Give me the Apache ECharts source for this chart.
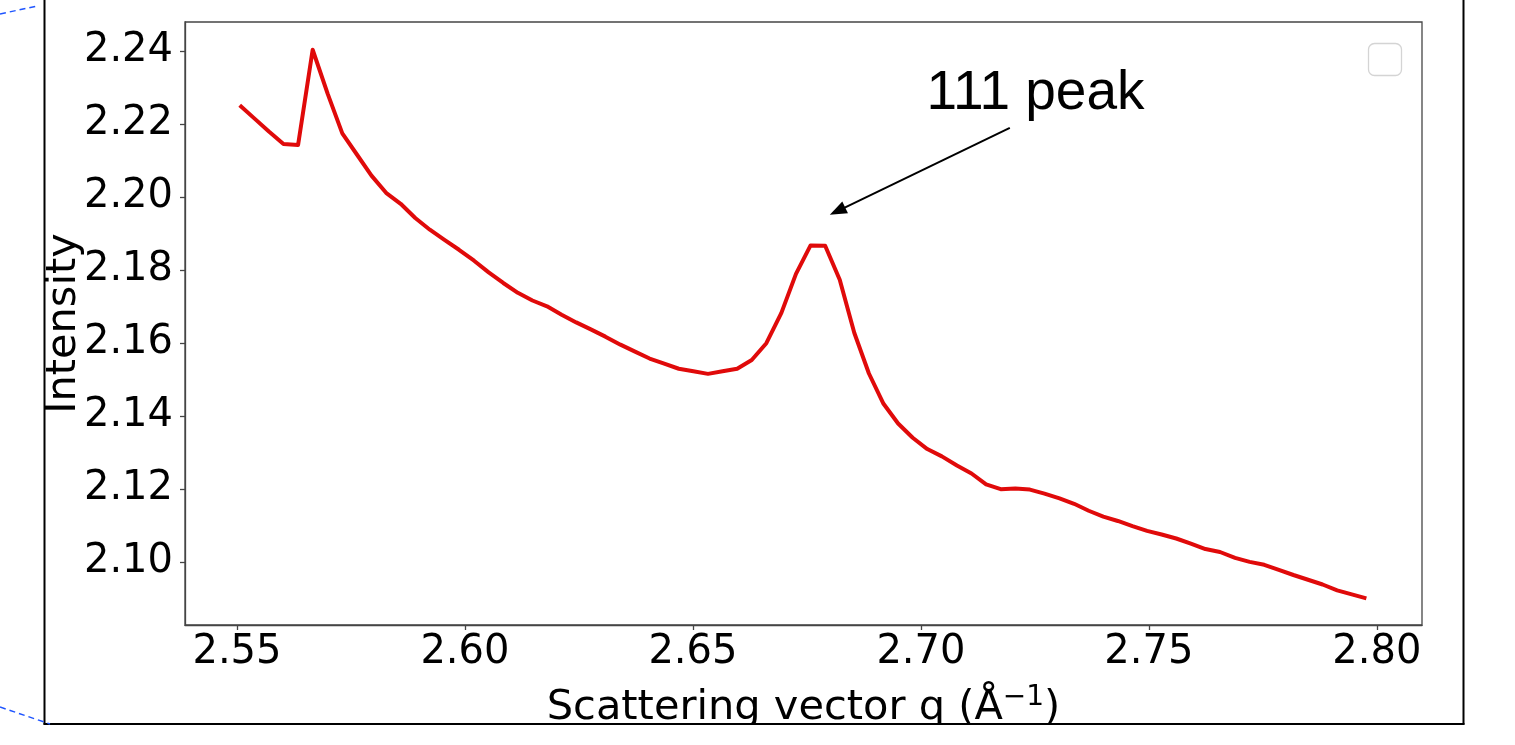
<!DOCTYPE html>
<html>
<head>
<meta charset="utf-8">
<script src="https://cdn.jsdelivr.net/npm/echarts@6/dist/echarts.min.js"></script>
<style>
  html, body { margin: 0; padding: 0; background: #fff; }
  #chart { width: 1515px; height: 745px; }
</style>
</head>
<body>
<div id="chart"></div>
<script>
// Scattering vector q (1/Å)
const qValues = [
  2.5506, 2.5538, 2.5570, 2.5602, 2.5634, 2.5666, 2.5699, 2.5731, 2.5763, 2.5795,
  2.5827, 2.5859, 2.5891, 2.5923, 2.5955, 2.5987, 2.6020, 2.6052, 2.6084, 2.6116,
  2.6148, 2.6180, 2.6212, 2.6244, 2.6276, 2.6308, 2.6341, 2.6373, 2.6405, 2.6437,
  2.6469, 2.6501, 2.6533, 2.6565, 2.6597, 2.6629, 2.6661, 2.6694, 2.6726, 2.6758,
  2.6790, 2.6822, 2.6854, 2.6886, 2.6918, 2.6950, 2.6982, 2.7014, 2.7046, 2.7079,
  2.7111, 2.7143, 2.7175, 2.7207, 2.7239, 2.7271, 2.7304, 2.7336, 2.7368, 2.7400,
  2.7432, 2.7464, 2.7496, 2.7528, 2.7560, 2.7592, 2.7624, 2.7656, 2.7689, 2.7721,
  2.7753, 2.7785, 2.7817, 2.7849, 2.7881, 2.7913, 2.7945, 2.7977
];

// Integrated intensity at each q
const intensity = [
  2.2251, 2.2215, 2.2179, 2.2145, 2.2142, 2.2403, 2.2282, 2.2174, 2.2116, 2.2058,
  2.2011, 2.1981, 2.1942, 2.1910, 2.1882, 2.1855, 2.1825, 2.1793, 2.1764, 2.1737,
  2.1716, 2.1700, 2.1677, 2.1656, 2.1637, 2.1617, 2.1595, 2.1576, 2.1557, 2.1543,
  2.1529, 2.1522, 2.1515, 2.1522, 2.1529, 2.1553, 2.1599, 2.1682, 2.1789, 2.1867,
  2.1866, 2.1773, 2.1627, 2.1516, 2.1433, 2.1379, 2.1340, 2.1309, 2.1289, 2.1264,
  2.1242, 2.1212, 2.1199, 2.1201, 2.1198, 2.1187, 2.1174, 2.1159, 2.1140, 2.1124,
  2.1112, 2.1098, 2.1085, 2.1075, 2.1064, 2.1050, 2.1035, 2.1027, 2.1011, 2.1000,
  2.0992, 2.0978, 2.0964, 2.0951, 2.0938, 2.0922, 2.0911, 2.0900
];

const xTicks = [2.55, 2.60, 2.65, 2.70, 2.75, 2.80];
const yTicks = [2.10, 2.12, 2.14, 2.16, 2.18, 2.20, 2.22, 2.24];

// Annotation for the (111) reflection
const peakText = '111 peak';
const peakTextAt = [2.7012, 2.2208];
const arrowFrom = [2.7195, 2.2189];
const arrowTo = [2.6817, 2.1961];

const TICK_FONT = '"DejaVu Sans", sans-serif';
const SPINE = '#454545';

const chart = echarts.init(document.getElementById('chart'), null, { renderer: 'canvas' });

chart.setOption({
  animation: false,
  backgroundColor: '#fff',
  grid: {
    left: 185, right: 93, top: 22, bottom: 120,
    show: true, borderColor: SPINE, borderWidth: 1.3,
    containLabel: false, outerBoundsMode: 'none'
  },
  xAxis: {
    type: 'value',
    min: 2.5386, max: 2.8099,
    name: 'Scattering vector q (Å{sup|−1})',
    nameLocation: 'middle',
    nameGap: 59,
    nameTextStyle: {
      fontSize: 41.5, fontFamily: TICK_FONT, color: '#000', lineHeight: 48,
      rich: { sup: { fontSize: 28, fontFamily: TICK_FONT, color: '#000', verticalAlign: 'top', lineHeight: 31 } }
    },
    axisLine: { show: true, lineStyle: { color: SPINE, width: 1.3 } },
    axisTick: { show: true, inside: false, length: 5, customValues: xTicks, lineStyle: { color: SPINE, width: 1.3 } },
    axisLabel: {
      customValues: xTicks, margin: 8,
      fontSize: 40, fontFamily: TICK_FONT, color: '#000',
      formatter: v => v.toFixed(2)
    },
    splitLine: { show: false }
  },
  yAxis: {
    type: 'value',
    min: 2.0827, max: 2.2479,
    name: 'Intensity',
    nameLocation: 'middle',
    nameRotate: 90,
    nameGap: 100,
    nameMoveOverlap: false,
    nameTextStyle: { fontSize: 41.5, fontFamily: TICK_FONT, color: '#000' },
    axisLine: { show: true, lineStyle: { color: SPINE, width: 1.3 } },
    axisTick: { show: true, inside: false, length: 5, customValues: yTicks, lineStyle: { color: SPINE, width: 1.3 } },
    axisLabel: {
      customValues: yTicks, margin: 12,
      fontSize: 40, fontFamily: TICK_FONT, color: '#000',
      formatter: v => v.toFixed(2)
    },
    splitLine: { show: false }
  },
  series: [{
    type: 'line',
    data: qValues.map((q, i) => [q, intensity[i]]),
    showSymbol: false,
    smooth: false,
    lineStyle: { color: '#e00a0a', width: 4, join: 'round' },
    silent: true,
    markLine: {
      silent: true,
      animation: false,
      symbol: ['none', 'triangle'],
      symbolSize: [13, 17],
      label: { show: false },
      lineStyle: { color: '#000', width: 2, type: 'solid' },
      data: [[{ coord: arrowFrom }, { coord: arrowTo }]]
    }
  }]
});

const textPos = chart.convertToPixel({ gridIndex: 0 }, peakTextAt);

chart.setOption({
  graphic: [
    {
      type: 'text', z: 50,
      style: {
        x: textPos[0], y: textPos[1], text: peakText,
        font: '55px "Liberation Sans", Arial, sans-serif', fill: '#000',
        align: 'left', textAlign: 'left', verticalAlign: 'bottom', textVerticalAlign: 'bottom'
      }
    },
    // empty legend frame
    {
      type: 'rect', z: 50,
      shape: { x: 1368.5, y: 43.5, width: 33, height: 32, r: 6 },
      style: { fill: '#fff', stroke: '#d4d4d4', lineWidth: 1.3 }
    },
    // white strip below the outer frame
    {
      type: 'rect', z: 90,
      shape: { x: 0, y: 725, width: 1515, height: 20 },
      style: { fill: '#fff' }
    },
    // outer frame
    { type: 'line', z: 100, shape: { x1: 44.5, y1: 0, x2: 44.5, y2: 724.5 }, style: { stroke: '#000', lineWidth: 2 } },
    { type: 'line', z: 100, shape: { x1: 1463.5, y1: 0, x2: 1463.5, y2: 724.5 }, style: { stroke: '#000', lineWidth: 2 } },
    { type: 'line', z: 100, shape: { x1: 43.5, y1: 724, x2: 1464.5, y2: 724 }, style: { stroke: '#000', lineWidth: 2 } },
    // dashed connectors at the left edge
    { type: 'line', z: 100, shape: { x1: 0, y1: 14, x2: 37, y2: 6 }, style: { stroke: '#1f55ff', lineWidth: 1.5, lineDash: [6, 4] } },
    { type: 'line', z: 100, shape: { x1: 0, y1: 707, x2: 50, y2: 724 }, style: { stroke: '#1f55ff', lineWidth: 1.5, lineDash: [6, 4] } }
  ]
});
</script>
</body>
</html>
